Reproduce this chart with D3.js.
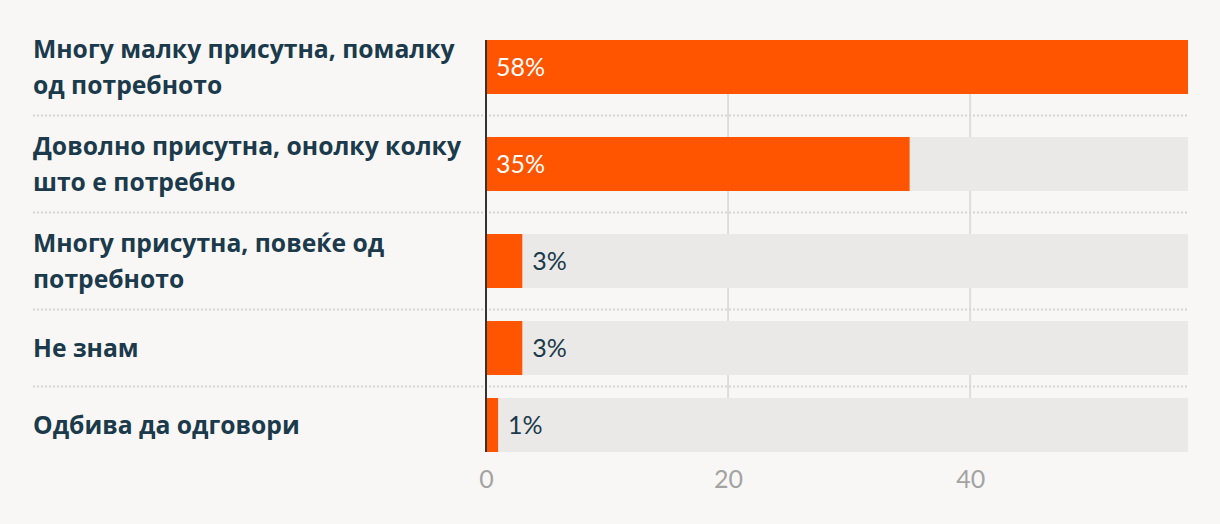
<!DOCTYPE html>
<html>
<head>
<meta charset="utf-8">
<style>
  body { margin: 0; background: #f8f7f5; }
  svg { display: block; }
  .cat { font-family: "Open Sans", sans-serif; font-weight: 700; fill: #1b3a4b; }
  .val { font-family: "Source Sans Pro", "Lato", sans-serif; }
  .tick text { font-family: "Lato", sans-serif; }
</style>
<script src="https://d3js.org/d3.v7.min.js"></script>
</head>
<body>
<div id="chart"></div>
<script>
// answers, values (%) and axis ticks
const categories = [
  "Многу малку присутна, помалку\nод потребното",
  "Доволно присутна, онолку колку\nшто е потребно",
  "Многу присутна, повеќе од\nпотребното",
  "Не знам",
  "Одбива да одговори"
];
const values = [58, 35, 3, 3, 1];
const tickValues = [0, 20, 40];

const W = 1220, H = 524;
const labelX = 33, lineH = 36, barH = 54, minRowH = 52, pad = 12.5, startY = 31;

const svg = d3.select("#chart").append("svg")
    .attr("width", W)
    .attr("height", H);

const x = d3.scaleLinear().domain([0, 58]).range([486, 1188]);

// row positions depend on how many lines each label takes
let rows = [];
let cur = startY;
categories.forEach(function(c, i) {
    const lines = c.split("\n");
    const h = Math.max(lines.length * lineH, minRowH);
    rows.push({ label: lines, value: values[i], y: cur, h: h, mid: cur + h / 2 });
    cur += h + pad * 2;
});
const chartTop = rows[0].mid - barH / 2;
const chartBottom = rows[rows.length - 1].mid + barH / 2;

// grid
svg.append("g").selectAll("line")
    .data(tickValues.slice(1))
    .join("line")
    .attr("x1", d => x(d)).attr("x2", d => x(d))
    .attr("y1", chartTop).attr("y2", chartBottom)
    .attr("stroke", "#dedddb")
    .attr("stroke-width", 2);

// dotted separators
svg.append("g").selectAll("line")
    .data(rows.slice(1))
    .join("line")
    .attr("x1", labelX).attr("x2", x(58))
    .attr("y1", d => d.y - pad).attr("y2", d => d.y - pad)
    .attr("stroke", "#d6d5d3")
    .attr("stroke-width", 2)
    .attr("stroke-dasharray", "2,2");

const row = svg.append("g").selectAll("g")
    .data(rows)
    .join("g");

// background tracks
row.append("rect")
    .attr("x", x(0))
    .attr("y", d => d.mid - barH / 2)
    .attr("width", x(58) - x(0))
    .attr("height", barH)
    .attr("fill", "#eae9e7");

row.append("rect")
    .attr("x", x(0))
    .attr("y", d => d.mid - barH / 2)
    .attr("width", d => x(d.value) - x(0))
    .attr("height", barH)
    .attr("fill", "#ff5500");

row.append("text")
    .attr("class", "val")
    .attr("x", d => d.value > 10 ? x(0) + 10 : x(d.value) + 10)
    .attr("y", d => d.mid)
    .attr("dy", "0.35em")
    .attr("font-size", 25)
    .attr("fill", d => d.value > 10 ? "#ffffff" : "#1b3a4b")
    .text(d => d.value + "%");

// category labels
row.append("text")
    .attr("class", "cat")
    .attr("font-size", 24.7)
    .selectAll("tspan")
    .data(d => d.label.map((l, j) => ({ l: l, y: d.mid - (d.label.length - 1) * lineH / 2 + j * lineH })))
    .join("tspan")
    .attr("x", labelX)
    .attr("y", d => d.y)
    .attr("dy", "0.35em")
    .text(d => d.l);

// zero line
svg.append("line")
    .attr("x1", x(0)).attr("x2", x(0))
    .attr("y1", chartTop).attr("y2", chartBottom)
    .attr("stroke", "#333333")
    .attr("stroke-width", 2);

// x axis
const xAxis = svg.append("g")
    .attr("transform", "translate(0," + chartBottom + ")")
    .call(d3.axisBottom(x).tickValues(tickValues).tickSize(0).tickPadding(18));
xAxis.select(".domain").remove();
xAxis.selectAll("text")
    .attr("font-size", 25)
    .attr("fill", "#a3a3a3");
</script>
</body>
</html>
